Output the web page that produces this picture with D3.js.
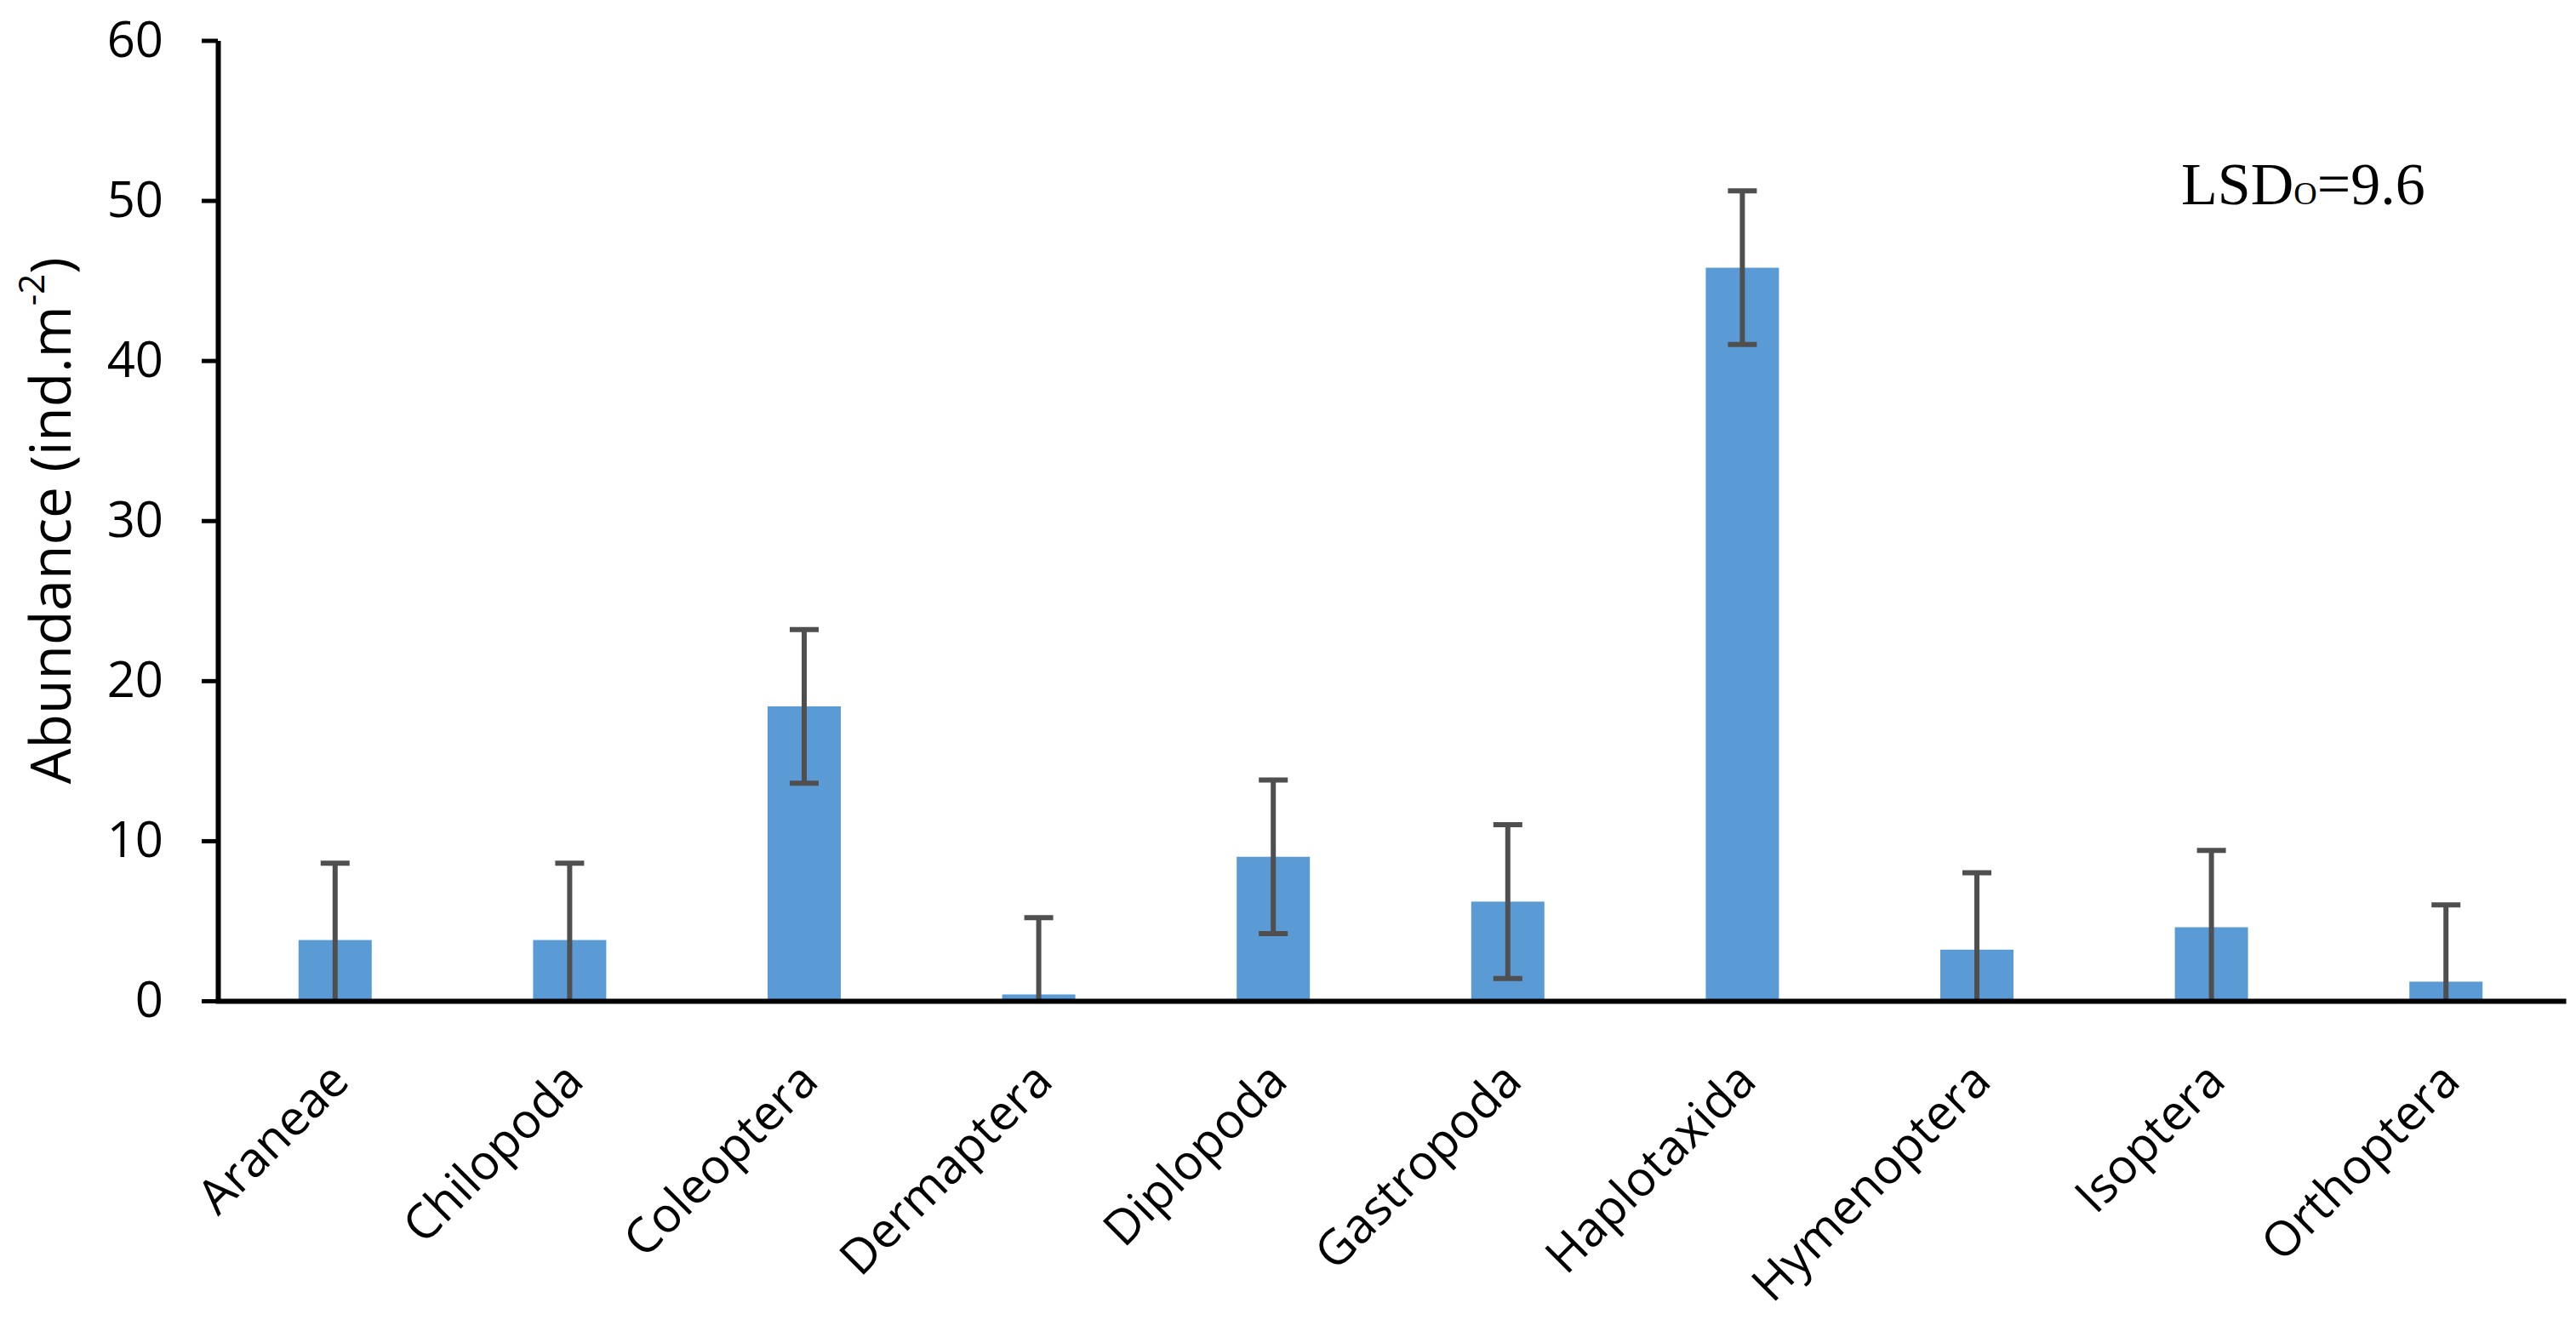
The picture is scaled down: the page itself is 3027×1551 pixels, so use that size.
<!DOCTYPE html>
<html>
<head>
<meta charset="utf-8">
<script src="https://cdn.jsdelivr.net/npm/d3@7"></script>
<style>
  html, body { margin: 0; padding: 0; background: #ffffff; }
  svg { display: block; }
</style>
</head>
<body>
<div id="chart"></div>
<script>
// ---- Data ----
const categories = ["Araneae", "Chilopoda", "Coleoptera", "Dermaptera", "Diplopoda",
                    "Gastropoda", "Haplotaxida", "Hymenoptera", "Isoptera", "Orthoptera"];
const abundance = [3.8, 3.8, 18.4, 0.4, 9.0, 6.2, 45.8, 3.2, 4.6, 1.2];
const errors    = [4.8, 4.8, 4.8, 4.8, 4.8, 4.8, 4.8, 4.8, 4.8, 4.8];
const yTicks    = [0, 10, 20, 30, 40, 50, 60];
const yTitle    = "Abundance (ind.m";
const yTitleSup = "-2";
const lsdMain   = "LSD";
const lsdSub    = "O";
const lsdValue  = "=9.6";

(function () {
// ---- Layout ----
const W = 3027, H = 1551;
const mLeft = 256, mRight = 3012, mTop = 47.5, mBottom = 1176;

const svg = d3.select("#chart").append("svg")
  .attr("width", W).attr("height", H)
  .style("background", "#ffffff");

const x = d3.scaleBand()
  .domain(categories)
  .range([mLeft, mRight])
  .paddingInner(0.688)
  .paddingOuter(0.344);

const y = d3.scaleLinear().domain([0, 60]).range([mBottom, mTop]);

const data = categories.map((c, i) => ({ cat: c, v: abundance[i], e: errors[i] }));

// Bars
svg.append("g").selectAll("rect")
  .data(data).join("rect")
  .attr("x", d => x(d.cat))
  .attr("width", x.bandwidth())
  .attr("y", d => y(d.v))
  .attr("height", d => y(0) - y(d.v))
  .attr("fill", "#5B9BD5");

// Error bars
const eg = svg.append("g").attr("stroke", "#4f4f4f").attr("stroke-width", 6);
const capW = 34;
data.forEach(d => {
  const cx = x(d.cat) + x.bandwidth() / 2;
  const lo = Math.max(0, d.v - d.e), hi = d.v + d.e;
  eg.append("line").attr("x1", cx).attr("x2", cx).attr("y1", y(lo)).attr("y2", y(hi));
  eg.append("line").attr("x1", cx - capW / 2).attr("x2", cx + capW / 2).attr("y1", y(hi)).attr("y2", y(hi));
  if (d.v - d.e >= 0) {
    eg.append("line").attr("x1", cx - capW / 2).attr("x2", cx + capW / 2).attr("y1", y(lo)).attr("y2", y(lo));
  }
});

// Y axis
const yAxis = svg.append("g")
  .attr("transform", `translate(${mLeft},0)`)
  .call(d3.axisLeft(y).tickValues(yTicks).tickSize(19).tickSizeOuter(0).tickPadding(45));
yAxis.select(".domain").attr("stroke", "#000").attr("stroke-width", 6);
yAxis.selectAll(".tick line").attr("stroke", "#000").attr("stroke-width", 5);
yAxis.selectAll(".tick text")
  .attr("font-family", "'Open Sans', sans-serif")
  .attr("font-size", 58)
  .attr("fill", "#000");

// X axis
const xAxis = svg.append("g")
  .attr("transform", `translate(0,${mBottom})`)
  .call(d3.axisBottom(x).tickSize(0).tickSizeOuter(0));
xAxis.select(".domain").attr("stroke", "#000").attr("stroke-width", 6).attr("stroke-linecap", "square");
xAxis.selectAll(".tick text")
  .attr("font-family", "'Open Sans', sans-serif")
  .attr("font-size", 57)
  .attr("fill", "#000")
  .attr("text-anchor", "end")
  .attr("x", 0).attr("y", 0)
  .attr("dy", "0.35em")
  .attr("transform", "translate(5,83) rotate(-45)");

// Y axis title
const yt = svg.append("text")
  .attr("transform", `translate(83,${(mTop + mBottom) / 2}) rotate(-90)`)
  .attr("text-anchor", "middle")
  .attr("font-family", "'Open Sans', sans-serif")
  .attr("font-size", 66)
  .attr("fill", "#000");
yt.append("tspan").text(yTitle);
yt.append("tspan").attr("font-size", 42).attr("dy", "-0.75em").text(yTitleSup);
yt.append("tspan").attr("dy", "0.48em").text(")");

// LSD annotation
const lsd = svg.append("text")
  .attr("x", 2563).attr("y", 240)
  .attr("font-family", "'Liberation Serif', 'Times New Roman', serif")
  .attr("font-size", 70)
  .attr("fill", "#000");
lsd.append("tspan").text(lsdMain);
lsd.append("tspan").attr("font-size", 38).text(lsdSub);
lsd.append("tspan").text(lsdValue);
})();
</script>
</body>
</html>
